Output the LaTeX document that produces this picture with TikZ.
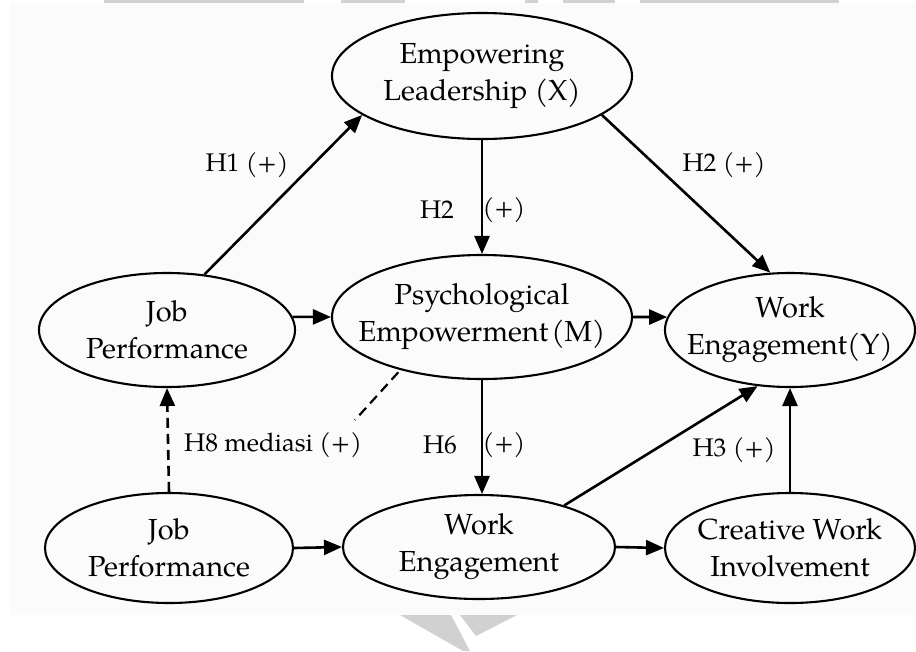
\documentclass[tikz,border=0pt]{standalone}
\usepackage{fontspec}
\setmainfont{TeX Gyre Pagella}
\usetikzlibrary{arrows.meta,shapes.geometric}

\begin{document}
\begin{tikzpicture}[x=1pt,y=-1pt,
  construct/.style={ellipse, draw, line width=2.1pt, inner sep=0pt},
  ctext/.style={align=center, inner sep=0pt, font=\fontsize{29}{37}\selectfont},
  link/.style={line width=2.6pt, -{Triangle[length=18pt,width=15pt]}},
  medlink/.style={line width=2.2pt, dash pattern=on 10pt off 6pt},
  hyp/.style={inner sep=0pt, font=\fontsize{25.5}{30}\selectfont},
  bar/.style={fill=black!18},
]
\useasboundingbox (0,0) rectangle (916,651);
\fill[black!1.5] (10,3) rectangle (916,615);

% grey strips along the top edge and chevron below
\fill[bar] (104,0) rectangle (304,2.5);
\fill[bar] (341,0) rectangle (405,2.5);
\fill[bar] (525,0) rectangle (538,2.5);
\fill[bar] (563,0) rectangle (615,2.5);
\fill[bar] (640,0) rectangle (839,2.5);
\fill[bar] (400,615) -- (451,615) -- (470,651) -- (463,651) -- cycle;
\fill[bar] (460,615) -- (517,615) -- (476,636) -- cycle;

% constructs
\node[construct, minimum width=300pt, minimum height=126pt] (empow) at (482,76) {};
\node[construct, minimum width=256pt, minimum height=114pt] (jp) at (167,330) {};
\node[construct, minimum width=300pt, minimum height=124pt] (psych) at (482,317) {};
\node[construct, minimum width=250pt, minimum height=114pt] (wey) at (790,330) {};
\node[construct, minimum width=248pt, minimum height=110pt] (jp2) at (169,548) {};
\node[construct, minimum width=272pt, minimum height=104pt] (we) at (479,547) {};
\node[construct, minimum width=250pt, minimum height=110pt] (creative) at (790,548) {};

\node[ctext] (empow-t) at (empow) {Empowering\\Leadership (X)};
\node[ctext] (jp-t) at (jp) {Job\\Performance};
\node[ctext] (psych-t) at (psych) {Psychological\\Empowerment\hspace{3pt}(M)};
\node[ctext] (wey-t) at (wey) {Work\\Engagement(Y)};
\node[ctext] (jp2-t) at (jp2) {Job\\Performance};
\node[ctext] (we-t) at (we) {Work\\Engagement};
\node[ctext] (creative-t) at (creative) {Creative Work\\Involvement};

% paths
\draw[link] (jp.56) -- (empow.198);
\draw[link] (empow.south) -- (psych.north);
\draw[link] (empow.342) -- (wey.109);
\draw[link] (jp.6) -- (psych.west);
\draw[link] (psych.east) -- (wey.174);
\draw[link] (psych.south) -- (psych.south |- we.north);
\draw[link, dash pattern=on 10pt off 6pt] (jp2.north) -- (jp.south);
\coordinate (h8end) at (355,420);
\draw[medlink, shorten <=3pt] (psych.213) -- (h8end);
\draw[link] (jp2.east) -- (we.west);
\draw[link] (we.east) -- (creative.west);
\draw[link] (we.26) -- (wey.240);
\draw[link] (creative.north) -- (wey.south);

% hypothesis labels
\node[hyp] (h1) at (247,165) {H1 (+)};
\node[hyp] (h2a) at (437,210) {H2};
\node[hyp] (h2b) at (504,210) {(+)};
\node[hyp] (h2c) at (724,165) {H2 (+)};
\node[hyp] (h6a) at (440,445) {H6};
\node[hyp] (h6b) at (504,445) {(+)};
\node[hyp] (h8) at (273,445) {H8 mediasi (+)};
\node[hyp] (h3) at (734,450) {H3 (+)};
\end{tikzpicture}
\end{document}
